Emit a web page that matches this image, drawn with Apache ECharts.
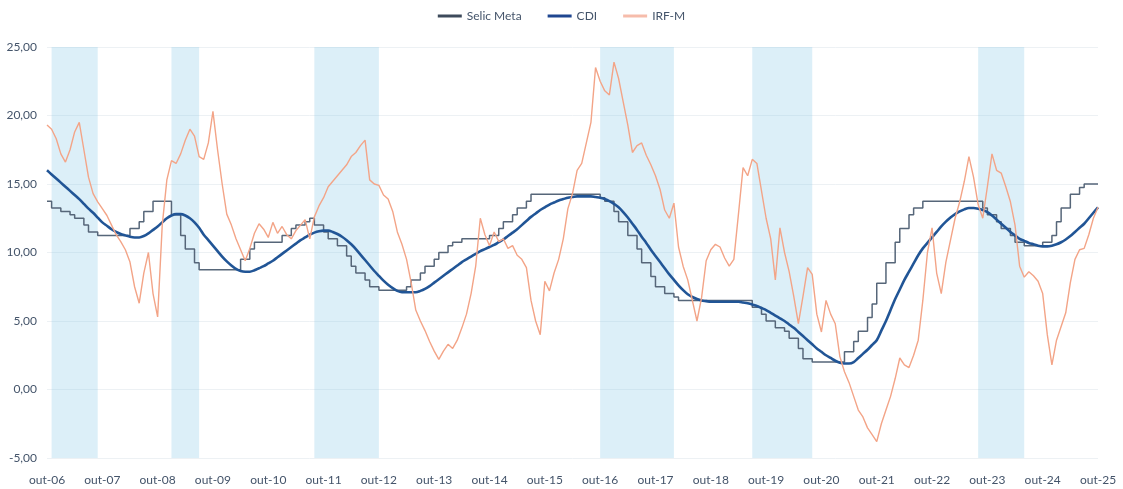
<!DOCTYPE html>
<html>
<head>
<meta charset="utf-8">
<script src="https://cdn.jsdelivr.net/npm/echarts@6/dist/echarts.min.js"></script>
<style>
  html, body { margin: 0; padding: 0; background: #ffffff; }
  #chart { width: 1123px; height: 489px; }
</style>
</head>
<body>
<div id="chart"></div>
<script>
// Monthly series, Oct/2006 .. Oct/2025 (229 months)
const startYear = 2006;
const startMonth = 9; // October (0-based)
const monthNames = ['jan', 'fev', 'mar', 'abr', 'mai', 'jun', 'jul', 'ago', 'set', 'out', 'nov', 'dez'];

// Selic target rate (% a.a.), value in force during each month
const selicMeta = [
  13.75, 13.25, 13.25, 13.00, 13.00, 12.75, 12.50, 12.50, 12.00, 11.50, 11.50, 11.25,
  11.25, 11.25, 11.25, 11.25, 11.25, 11.25, 11.75, 11.75, 12.25, 13.00, 13.00, 13.75,
  13.75, 13.75, 13.75, 12.75, 12.75, 11.25, 10.25, 10.25, 9.25, 8.75, 8.75, 8.75,
  8.75, 8.75, 8.75, 8.75, 8.75, 8.75, 9.50, 9.50, 10.25, 10.75, 10.75, 10.75,
  10.75, 10.75, 10.75, 11.25, 11.25, 11.75, 12.00, 12.00, 12.25, 12.50, 12.00, 12.00,
  11.50, 11.00, 11.00, 10.50, 10.50, 9.75, 9.00, 8.50, 8.50, 8.00, 7.50, 7.50,
  7.25, 7.25, 7.25, 7.25, 7.25, 7.25, 7.50, 8.00, 8.00, 8.50, 9.00, 9.00,
  9.50, 10.00, 10.00, 10.50, 10.75, 10.75, 11.00, 11.00, 11.00, 11.00, 11.00, 11.00,
  11.25, 11.25, 11.75, 12.25, 12.25, 12.75, 13.25, 13.25, 13.75, 14.25, 14.25, 14.25,
  14.25, 14.25, 14.25, 14.25, 14.25, 14.25, 14.25, 14.25, 14.25, 14.25, 14.25, 14.25,
  14.00, 13.75, 13.75, 13.00, 12.25, 12.25, 11.25, 11.25, 10.25, 9.25, 9.25, 8.25,
  7.50, 7.50, 7.00, 7.00, 6.75, 6.50, 6.50, 6.50, 6.50, 6.50, 6.50, 6.50,
  6.50, 6.50, 6.50, 6.50, 6.50, 6.50, 6.50, 6.50, 6.50, 6.00, 6.00, 5.50,
  5.00, 5.00, 4.50, 4.50, 4.25, 3.75, 3.75, 3.00, 2.25, 2.25, 2.00, 2.00,
  2.00, 2.00, 2.00, 2.00, 2.00, 2.75, 2.75, 3.50, 4.25, 4.25, 5.25, 6.25,
  7.75, 7.75, 9.25, 9.25, 10.75, 11.75, 11.75, 12.75, 13.25, 13.25, 13.75, 13.75,
  13.75, 13.75, 13.75, 13.75, 13.75, 13.75, 13.75, 13.75, 13.75, 13.75, 13.75, 13.25,
  12.75, 12.75, 12.25, 11.75, 11.75, 11.25, 10.75, 10.75, 10.50, 10.50, 10.50, 10.50,
  10.75, 10.75, 11.25, 12.25, 13.25, 13.25, 14.25, 14.25, 14.75, 15.00, 15.00, 15.00,
  15.00
];

// CDI accumulated over 12 months (%)
const cdi = [
  16.00, 15.70, 15.40, 15.10, 14.80, 14.50, 14.20, 13.90, 13.55, 13.20, 12.90, 12.55,
  12.20, 11.95, 11.70, 11.50, 11.35, 11.25, 11.15, 11.10, 11.10, 11.20, 11.40, 11.65,
  11.90, 12.20, 12.50, 12.70, 12.80, 12.80, 12.70, 12.50, 12.20, 11.80, 11.30, 10.90,
  10.50, 10.10, 9.70, 9.35, 9.05, 8.80, 8.65, 8.60, 8.60, 8.70, 8.85, 9.00,
  9.20, 9.40, 9.65, 9.90, 10.15, 10.40, 10.65, 10.90, 11.10, 11.30, 11.45, 11.55,
  11.60, 11.60, 11.50, 11.35, 11.15, 10.90, 10.60, 10.25, 9.85, 9.45, 9.05, 8.65,
  8.30, 7.95, 7.65, 7.40, 7.20, 7.10, 7.10, 7.10, 7.10, 7.20, 7.35, 7.55,
  7.80, 8.05, 8.30, 8.55, 8.80, 9.05, 9.30, 9.50, 9.70, 9.90, 10.10, 10.25,
  10.40, 10.55, 10.75, 10.95, 11.20, 11.45, 11.70, 12.00, 12.30, 12.60, 12.85, 13.10,
  13.30, 13.50, 13.65, 13.80, 13.90, 14.00, 14.05, 14.10, 14.10, 14.10, 14.10, 14.05,
  14.00, 13.90, 13.75, 13.55, 13.30, 12.95, 12.55, 12.10, 11.65, 11.15, 10.70, 10.20,
  9.75, 9.30, 8.85, 8.40, 8.00, 7.60, 7.25, 6.95, 6.75, 6.60, 6.50, 6.45,
  6.40, 6.40, 6.40, 6.40, 6.40, 6.40, 6.40, 6.35, 6.30, 6.20, 6.10, 5.95,
  5.80, 5.60, 5.40, 5.20, 5.00, 4.75, 4.50, 4.20, 3.90, 3.60, 3.30, 3.00,
  2.75, 2.50, 2.30, 2.10, 1.95, 1.90, 1.90, 2.00, 2.30, 2.60, 2.90, 3.25,
  3.60, 4.30, 5.00, 5.80, 6.60, 7.30, 8.00, 8.60, 9.20, 9.80, 10.30, 10.70,
  11.10, 11.50, 11.90, 12.25, 12.55, 12.80, 13.00, 13.15, 13.25, 13.25, 13.20, 13.10,
  12.95, 12.70, 12.40, 12.10, 11.80, 11.50, 11.25, 11.00, 10.85, 10.70, 10.60, 10.50,
  10.45, 10.45, 10.50, 10.60, 10.75, 10.95, 11.20, 11.50, 11.80, 12.10, 12.50, 12.90,
  13.30
];

// IRF-M return over 12 months (%)
const irfm = [
  19.3, 19.0, 18.3, 17.2, 16.6, 17.5, 18.8, 19.5, 17.5, 15.5, 14.3, 13.7,
  13.2, 12.7, 12.0, 11.3, 10.8, 10.2, 9.3, 7.5, 6.3, 8.5, 10.0, 7.0,
  5.3, 12.0, 15.3, 16.7, 16.5, 17.2, 18.2, 19.0, 18.5, 17.0, 16.8, 18.0,
  20.3, 17.5, 15.0, 12.8, 12.0, 11.0, 10.2, 9.4, 10.3, 11.4, 12.1, 11.7,
  11.1, 12.2, 11.4, 11.9, 11.3, 11.0, 11.6, 12.0, 12.4, 11.0, 12.6, 13.4,
  14.0, 14.8, 15.2, 15.6, 16.0, 16.4, 17.0, 17.3, 17.8, 18.2, 15.3, 15.0,
  14.9, 14.2, 13.9, 13.0, 11.5, 10.6, 9.5, 7.8, 5.8, 5.0, 4.3, 3.5,
  2.8, 2.2, 2.8, 3.3, 3.0, 3.6, 4.5, 5.5, 7.0, 9.0, 12.5, 11.3,
  10.5, 11.5, 10.8, 11.0, 10.3, 10.5, 9.8, 9.5, 8.9, 6.5, 5.0, 4.0,
  7.9, 7.2, 8.5, 9.5, 11.0, 13.2, 14.3, 16.0, 16.5, 18.0, 19.5, 23.5,
  22.5, 21.8, 21.5, 23.9, 22.7, 21.0, 19.3, 17.3, 17.8, 18.0, 17.1, 16.4,
  15.6, 14.6, 13.1, 12.5, 13.6, 10.4, 9.0, 8.0, 6.5, 5.0, 6.7, 9.4,
  10.2, 10.6, 10.4, 9.6, 9.0, 9.5, 12.8, 16.2, 15.6, 16.8, 16.5, 14.5,
  12.5, 11.0, 8.0, 11.8, 10.0, 8.6, 6.8, 4.8, 6.8, 8.9, 8.4, 5.5,
  4.2, 6.5, 5.5, 4.8, 2.4, 1.3, 0.5, -0.5, -1.5, -2.0, -2.8, -3.3,
  -3.8, -2.5, -1.5, -0.5, 0.8, 2.3, 1.8, 1.6, 2.5, 3.6, 6.5, 10.0,
  11.8, 8.5, 7.0, 9.3, 10.9, 12.5, 13.7, 15.2, 17.0, 15.5, 13.5, 12.5,
  14.8, 17.2, 16.0, 15.8, 14.8, 13.7, 12.0, 9.0, 8.2, 8.6, 8.3, 7.9,
  7.0, 4.0, 1.8, 3.6, 4.6, 5.6, 7.8, 9.5, 10.2, 10.3, 11.3, 12.5,
  13.3
];

// Monetary easing periods, as [first month, last month] labels
const easingPeriods = [
  ['nov-06', 'set-07'],
  ['jan-09', 'jul-09'],
  ['ago-11', 'out-12'],
  ['out-16', 'fev-18'],
  ['jul-19', 'ago-20'],
  ['ago-23', 'jun-24']
];

const yTicks = { min: -5, max: 25, step: 5 };

// Month labels such as "out-06"
const months = [];
for (let i = 0; i < selicMeta.length; i++) {
  const m = (startMonth + i) % 12;
  const y = startYear + Math.floor((startMonth + i) / 12);
  months.push(monthNames[m] + '-' + String(y % 100).padStart(2, '0'));
}

const textColor = '#44546a';
const fontFamily = 'Lato, "Open Sans", sans-serif';

const chart = echarts.init(document.getElementById('chart'), null, { renderer: 'canvas' });

chart.setOption({
  backgroundColor: '#ffffff',
  animation: false,
  textStyle: { fontFamily: fontFamily },
  legend: {
    data: [
      { name: 'Selic Meta', icon: 'rect', itemStyle: { color: '#3d4a5b' } },
      { name: 'CDI', icon: 'rect', itemStyle: { color: '#1f4690' } },
      { name: 'IRF-M', icon: 'rect', itemStyle: { color: '#f6bcab' } }
    ],
    top: 5,
    left: 'center',
    itemWidth: 24,
    itemHeight: 3,
    itemGap: 26,
    textStyle: { color: textColor, fontSize: 12, fontFamily: fontFamily }
  },
  grid: { left: 47, right: 25, top: 47, bottom: 31, containLabel: false },
  xAxis: {
    type: 'category',
    data: months,
    boundaryGap: false,
    axisLine: { show: false },
    axisTick: { show: false },
    splitLine: { show: false },
    axisLabel: {
      interval: 11,
      color: textColor,
      fontSize: 12,
      margin: 16,
      fontFamily: fontFamily
    }
  },
  yAxis: {
    type: 'value',
    min: yTicks.min,
    max: yTicks.max,
    interval: yTicks.step,
    axisLine: { show: false },
    axisTick: { show: false },
    splitLine: { show: true, lineStyle: { color: '#edf1f4', width: 1 } },
    axisLabel: {
      color: textColor,
      fontSize: 12,
      margin: 10,
      fontFamily: fontFamily,
      formatter: v => v.toFixed(2).replace('.', ',')
    }
  },
  series: [
    {
      name: 'Selic Meta',
      type: 'line',
      data: selicMeta,
      step: 'end',
      symbol: 'none',
      z: 2,
      lineStyle: { color: '#566679', width: 1.5 },
      itemStyle: { color: '#3d4a5b' }
    },
    {
      name: 'CDI',
      type: 'line',
      data: cdi,
      symbol: 'none',
      smooth: 0.3,
      z: 3,
      lineStyle: { color: '#215596', width: 2.6 },
      itemStyle: { color: '#1f4690' }
    },
    {
      name: 'IRF-M',
      type: 'line',
      data: irfm,
      symbol: 'none',
      z: 4,
      lineStyle: { color: '#f3a487', width: 1.4 },
      itemStyle: { color: '#f6bcab' }
    },
    {
      name: 'easing',
      type: 'line',
      data: [],
      silent: true,
      z: 6,
      markArea: {
        silent: true,
        itemStyle: { color: 'rgba(125, 195, 228, 0.27)' },
        data: easingPeriods.map(p => [{ xAxis: p[0] }, { xAxis: p[1] }])
      }
    }
  ]
});
</script>
</body>
</html>
